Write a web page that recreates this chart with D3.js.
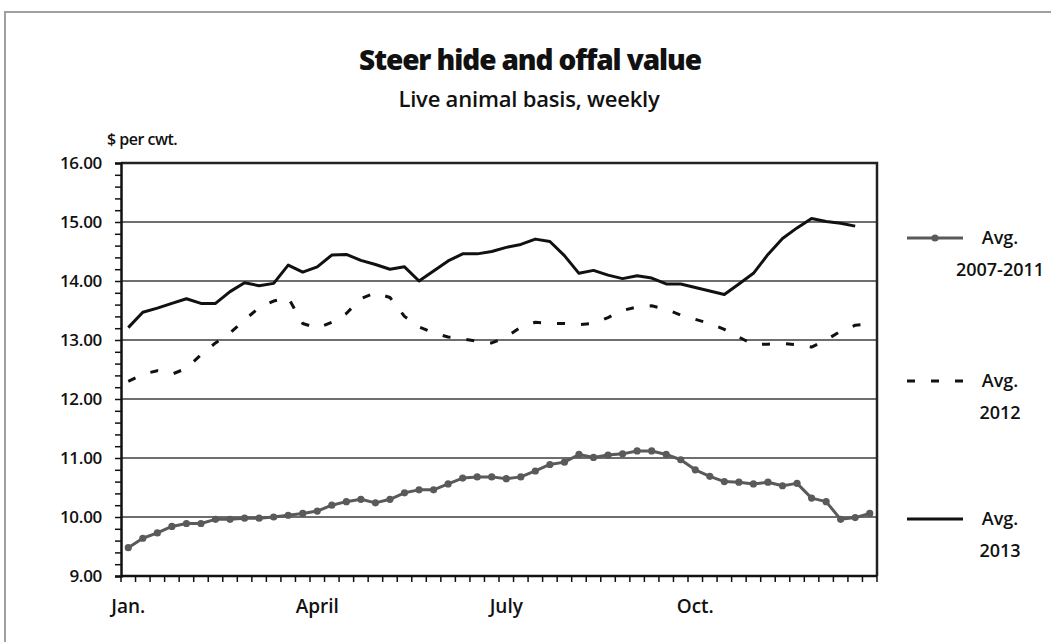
<!DOCTYPE html>
<html>
<head>
<meta charset="utf-8">
<script src="https://cdn.jsdelivr.net/npm/d3@7"></script>
<style>
  body { margin: 0; background: #fff; }
  svg { display: block; }
  text { font-family: "Open Sans", "DejaVu Sans", sans-serif; fill: #111; font-weight: 600; }
</style>
</head>
<body>
<div id="chart"></div>
<script>
"use strict";
// weekly categories, Jan..Dec
const weeks = [1, 2, 3, 4, 5, 6, 7, 8, 9, 10, 11, 12, 13, 14, 15, 16, 17, 18, 19, 20, 21, 22, 23, 24, 25, 26,
  27, 28, 29, 30, 31, 32, 33, 34, 35, 36, 37, 38, 39, 40, 41, 42, 43, 44, 45, 46, 47, 48, 49, 50, 51, 52];
const monthWeeks = [1, 14, 27, 40];
const monthLabels = ["Jan.", "April", "July", "Oct."];
const yTicks = [9, 10, 11, 12, 13, 14, 15, 16];

const avg0711 = [9.48, 9.64, 9.73, 9.84, 9.89, 9.89, 9.96, 9.96, 9.98, 9.98, 10.00, 10.03, 10.06, 10.10,
  10.20, 10.26, 10.30, 10.24, 10.30, 10.41, 10.46, 10.46, 10.56, 10.66, 10.68, 10.68, 10.65, 10.68,
  10.78, 10.89, 10.93, 11.06, 11.01, 11.05, 11.07, 11.12, 11.12, 11.06, 10.97, 10.80, 10.69, 10.60,
  10.59, 10.56, 10.59, 10.53, 10.57, 10.32, 10.26, 9.96, 9.99, 10.06];
const avg2012 = [12.30, 12.42, 12.48, 12.42, 12.52, 12.75, 12.95, 13.12, 13.34, 13.55, 13.66, 13.72, 13.28,
  13.20, 13.30, 13.45, 13.70, 13.80, 13.72, 13.40, 13.22, 13.12, 13.05, 13.02, 12.98, 12.95, 13.05,
  13.22, 13.30, 13.28, 13.28, 13.26, 13.28, 13.38, 13.50, 13.56, 13.58, 13.52, 13.42, 13.35, 13.28,
  13.18, 13.05, 12.92, 12.93, 12.94, 12.92, 12.88, 13.00, 13.15, 13.25, 13.27];
const avg2013 = [13.21, 13.47, 13.54, 13.62, 13.70, 13.62, 13.62, 13.82, 13.97, 13.92, 13.96, 14.27, 14.15,
  14.24, 14.44, 14.45, 14.35, 14.28, 14.20, 14.24, 14.00, 14.17, 14.34, 14.46, 14.46, 14.50, 14.57,
  14.62, 14.71, 14.67, 14.43, 14.13, 14.18, 14.10, 14.04, 14.09, 14.05, 13.95, 13.95, 13.89, 13.83,
  13.77, 13.95, 14.13, 14.45, 14.72, 14.90, 15.06, 15.01, 14.98, 14.93];

const series = [
  { name: "avg0711", values: avg0711, legend: ["Avg.", "2007-2011"], color: "#5a5a5a", dash: null, marker: true, ly: 238 },
  { name: "avg2012", values: avg2012, legend: ["Avg.", "2012"], color: "#111", dash: "8,16", marker: false, ly: 381 },
  { name: "avg2013", values: avg2013, legend: ["Avg.", "2013"], color: "#111", dash: null, marker: false, ly: 519 },
];

const W = 1051, H = 642;
const plot = { left: 121, right: 877, top: 163, bottom: 576 };

const svg = d3.select("#chart").append("svg").attr("width", W).attr("height", H);

// outer frame
svg.append("path").attr("d", `M5,${H} L5,12 L${W},12`).attr("fill", "none").attr("stroke", "#a0a0a0").attr("stroke-width", 2);

const x = d3.scaleBand().domain(weeks).range([plot.left, plot.right]).padding(0);
const y = d3.scaleLinear().domain([9, 16]).range([plot.bottom, plot.top]);
const cx = (w) => x(w) + x.bandwidth() / 2;

// gridlines
svg.append("g").selectAll("line").data(yTicks.filter((t) => t > 9 && t < 16)).enter().append("line")
  .attr("x1", plot.left).attr("x2", plot.right).attr("y1", (d) => y(d)).attr("y2", (d) => y(d))
  .attr("stroke", "#6e6e6e").attr("stroke-width", 2);

// frame: top + right
svg.append("path").attr("d", `M${plot.left},${y(16)} L${plot.right},${y(16)} L${plot.right},${plot.bottom}`)
  .attr("fill", "none").attr("stroke", "#222").attr("stroke-width", 2.5);

// y axis with minor ticks every 0.2
const yAxis = d3.axisLeft(y).tickValues(d3.range(9, 16.001, 0.2)).tickSize(6).tickFormat("");
const gy = svg.append("g").attr("transform", `translate(${plot.left},0)`).call(yAxis);
gy.select(".domain").attr("stroke", "#111").attr("stroke-width", 2.5);
gy.selectAll(".tick line").attr("stroke", "#111").attr("stroke-width", 1.5);
svg.append("g").selectAll("text").data(yTicks).enter().append("text")
  .attr("x", plot.left - 19).attr("y", (d) => y(d)).attr("dy", "0.35em").attr("text-anchor", "end")
  .style("font-size", "17px").style("letter-spacing", "-0.3px").text((d) => d.toFixed(2));

// x axis: ticks between weeks
const gx = svg.append("g").attr("transform", `translate(0,${plot.bottom})`);
gx.append("line").attr("x1", plot.left).attr("x2", plot.right).attr("stroke", "#111").attr("stroke-width", 2.5);
gx.selectAll("line.tk").data(weeks.concat([null])).enter().append("line").attr("class", "tk")
  .attr("x1", (d) => (d === null ? plot.right : x(d))).attr("x2", (d) => (d === null ? plot.right : x(d)))
  .attr("y1", 0).attr("y2", 6).attr("stroke", "#111").attr("stroke-width", 1.5);
gx.selectAll("text").data(monthWeeks).enter().append("text")
  .attr("x", (d) => cx(d)).attr("y", 37).attr("text-anchor", "middle")
  .style("font-size", "19px").text((d, i) => monthLabels[i]);

// lines
const line = d3.line().x((d, i) => cx(weeks[i])).y((d) => y(d));
series.forEach((s) => {
  svg.append("path").datum(s.values).attr("d", line).attr("fill", "none")
    .attr("stroke", s.color).attr("stroke-width", 3).attr("stroke-linejoin", "round")
    .attr("stroke-dasharray", s.dash);
  if (s.marker) {
    svg.append("g").selectAll("circle").data(s.values).enter().append("circle")
      .attr("cx", (d, i) => cx(weeks[i])).attr("cy", (d) => y(d)).attr("r", 3.6).attr("fill", s.color);
  }
});

// legend
const lg = svg.append("g");
series.forEach((s) => {
  lg.append("line").attr("x1", 907).attr("x2", 963).attr("y1", s.ly).attr("y2", s.ly)
    .attr("stroke", s.color).attr("stroke-width", 3).attr("stroke-dasharray", s.dash);
  if (s.marker) lg.append("circle").attr("cx", 935).attr("cy", s.ly).attr("r", 3.6).attr("fill", s.color);
  s.legend.forEach((t, j) => {
    lg.append("text").attr("x", 1000).attr("y", s.ly + j * 32).attr("dy", "0.35em").attr("text-anchor", "middle")
      .style("font-size", "18px").text(t);
  });
});

// titles
svg.append("text").attr("x", 530).attr("y", 70).attr("text-anchor", "middle")
  .style("font-size", "28px").style("font-weight", "800").style("letter-spacing", "-1.1px")
  .text("Steer hide and offal value");
svg.append("text").attr("x", 529).attr("y", 107).attr("text-anchor", "middle")
  .style("font-size", "22px").style("letter-spacing", "-0.2px").text("Live animal basis, weekly");
svg.append("text").attr("x", 107).attr("y", 145).style("font-size", "16px").style("letter-spacing", "-0.5px")
  .text("$ per cwt.");
</script>
</body>
</html>
